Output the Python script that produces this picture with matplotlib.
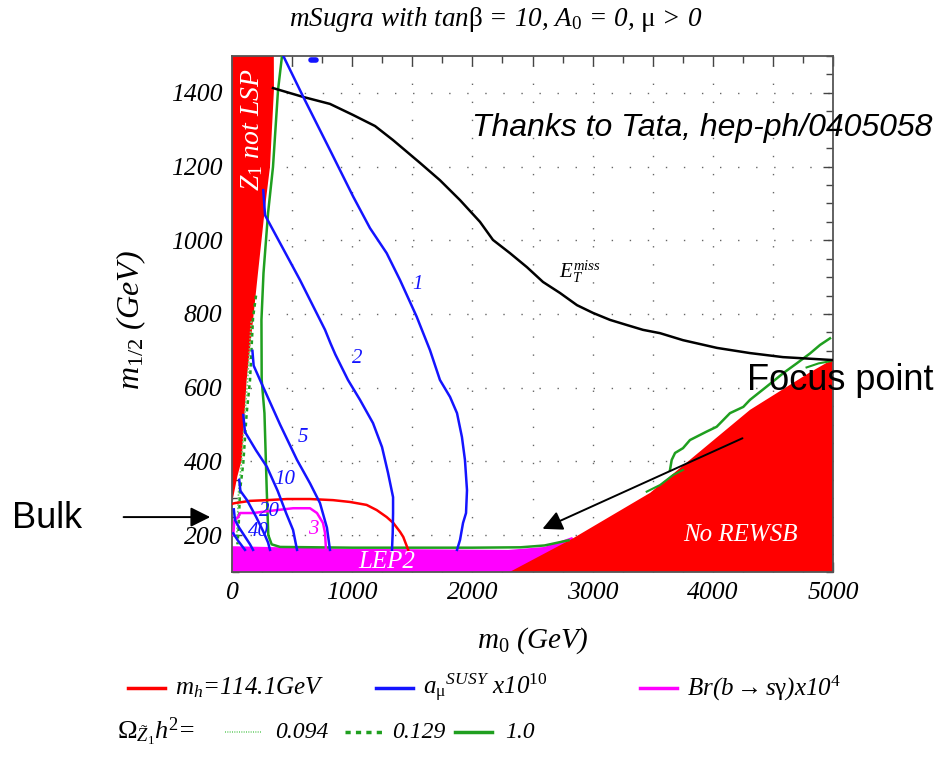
import matplotlib
matplotlib.use("Agg")
import matplotlib.pyplot as plt
from matplotlib.lines import Line2D
from matplotlib.ticker import MultipleLocator, FuncFormatter

plt.rcParams.update({
    "font.family": "Liberation Serif",
    "font.style": "italic",
    "mathtext.fontset": "custom",
    "mathtext.rm": "Liberation Serif:style=normal",
    "mathtext.it": "Liberation Serif:italic",
    "mathtext.bf": "Liberation Serif:bold",
})

RED = "#ff0000"
MAGENTA = "#ff00ff"
BLUE = "#1414ff"
GREEN = "#1f9f1f"
LIGHT_GREEN = "#6fcf6f"

# excluded regions (m0, m1/2 in GeV)
z1_m0 = [0, 11, 45, 81, 122, 175, 216, 275, 316, 349, 348, 0]
z1_mhalf = [295, 304, 360, 404, 621, 784, 911, 1090, 1199, 1408, 1500, 1500]

rewsb_m0 = [2310, 2830, 3480, 4310, 4800, 4950, 5000, 5000]
rewsb_mhalf = [100, 190, 315, 540, 640, 668, 675, 100]

lep2_m0 = [0, 0, 1000, 2300, 2600, 2830, 3000]
lep2_mhalf = [100, 170, 163, 160, 168, 195, 100]

# missing-ET reach
etmiss_m0 = [341, 591, 815, 1007, 1190, 1339, 1564, 1730, 1897, 2063, 2171, 2313, 2454,
             2587, 2729, 2870, 3003, 3145, 3286, 3419, 3561, 3752, 4035, 4309, 4584, 5000]
etmiss_mhalf = [1413, 1389, 1370, 1340, 1310, 1272, 1210, 1163, 1109, 1050, 1001, 965, 927,
                887, 857, 824, 803, 784, 770, 757, 748, 729, 708, 694, 683, 675]

# light higgs mass contour m_h = 114.1 GeV
mh_m0 = [0, 25, 150, 291, 458, 649, 840, 982, 1120, 1204, 1287, 1342, 1398, 1425, 1466]
mh_mhalf = [285, 287, 293, 295, 298, 298, 295, 290, 282, 268, 249, 233, 209, 195, 160]

# Br(b -> s gamma) x 10^4 = 3
bsg_m0 = [10, 20, 53, 67, 175, 374, 508, 649, 707, 757, 774, 782]
bsg_mhalf = [200, 240, 250, 260, 260, 268, 273, 273, 260, 233, 206, 160]

# relic density contours
omega1_m0 = [416, 383, 341, 300, 262, 245, 247, 270, 289, 302, 330, 400, 1000, 2000, 2400, 2600, 2800]
omega1_mhalf = [1500, 1408, 1199, 1074, 911, 784, 621, 531, 322, 200, 175, 168, 166, 166, 167, 172, 186]
omega1_fp_m0 = [3644, 3658, 3686, 3752, 3810, 3949, 4032, 4143, 4254, 4309, 4448, 4588, 4698, 4809, 4892, 4975]
omega1_fp_mhalf = [377, 404, 423, 436, 458, 481, 494, 531, 548, 567, 603, 640, 666, 693, 716, 734]
omega1_edge_m0 = [3450, 3561, 3669, 3752]
omega1_edge_mhalf = [318, 336, 363, 377]
omega1_top_m0 = [4780, 4880, 4980]
omega1_top_mhalf = [655, 666, 672]

omega129_m0 = [200, 175, 150, 122, 94, 67, 53, 45]
omega129_mhalf = [850, 790, 621, 531, 396, 322, 206, 175]
omega094_m0 = [160, 130, 105, 80, 55, 40]
omega094_mhalf = [780, 621, 520, 400, 320, 200]

# a_mu^SUSY x 10^10 contours
amu_values = ["1", "2", "5", "10", "20", "40"]
amu_m0 = [
    [427, 593, 815, 1009, 1148, 1287, 1398, 1536, 1647, 1730, 1814, 1872, 1913, 1938, 1955,
     1947, 1922, 1897, 1872],
    [260, 275, 566, 774, 820, 860, 965, 1065, 1173, 1248, 1298, 1340, 1340, 1337, 1331],
    [170, 180, 233, 400, 541, 650, 732, 790, 815],
    [94, 108, 200, 291, 380, 450, 508, 541],
    [60, 70, 125, 200, 260, 300, 316],
    [15, 25, 60, 110, 150, 175],
]
amu_mhalf = [
    [1500, 1389, 1245, 1118, 1033, 965, 892, 793, 702, 621, 575, 531, 466, 404, 322,
     260, 233, 187, 160],
    [1136, 1068, 892, 757, 720, 690, 621, 567, 504, 439, 369, 303, 260, 206, 160],
    [700, 660, 621, 500, 404, 340, 287, 220, 160],
    [526, 480, 430, 385, 320, 260, 214, 160],
    [350, 320, 295, 250, 210, 180, 160],
    [270, 241, 220, 195, 175, 160],
]
amu_label_m0 = [1547, 1040, 591, 441, 316, 216]
amu_label_mhalf = [879, 680, 466, 350, 263, 209]
amu_small_m0 = [10, 50, 108]
amu_small_mhalf = [205, 185, 160]
amu_blob_m0 = [655, 695]
amu_blob_mhalf = [1490, 1490]

W, H = 938, 758


def px(x, y):
    return x / W, 1 - y / H


fig = plt.figure(figsize=(W / 100, H / 100), dpi=100)
ax = fig.add_axes([232 / W, 186 / H, 601 / W, 516 / H])
ax.set_xlim(0, 5000)
ax.set_ylim(100, 1500)

# regions
ax.fill(lep2_m0, lep2_mhalf, color=MAGENTA, lw=0, zorder=2)
ax.fill(rewsb_m0, rewsb_mhalf, color=RED, lw=0, zorder=2.1)
ax.fill(z1_m0, z1_mhalf, color=RED, lw=0, zorder=2.1)

# contours
ax.plot(etmiss_m0, etmiss_mhalf, color="black", lw=1.8, zorder=4)
ax.plot(mh_m0, mh_mhalf, color=RED, lw=1.8, zorder=4)
ax.plot(bsg_m0, bsg_mhalf, color=MAGENTA, lw=1.8, zorder=4)

ax.plot(omega1_m0, omega1_mhalf, color=GREEN, lw=1.8, zorder=3.5)
ax.plot(omega1_fp_m0, omega1_fp_mhalf, color=GREEN, lw=1.8, zorder=3.5)
ax.plot(omega1_edge_m0, omega1_edge_mhalf, color=GREEN, lw=1.5, zorder=3.5)
ax.plot(omega1_top_m0, omega1_top_mhalf, color=GREEN, lw=1.5, zorder=3.5)
ax.plot(omega129_m0, omega129_mhalf, color=GREEN, lw=1.8, ls=(0, (1.5, 1.5)), zorder=3.5)
ax.plot(omega094_m0, omega094_mhalf, color=LIGHT_GREEN, lw=1.2, ls=(0, (1, 1)), zorder=3.5)

for xs, ys in zip(amu_m0, amu_mhalf):
    ax.plot(xs, ys, color=BLUE, lw=1.8, zorder=4)
ax.plot(amu_small_m0, amu_small_mhalf, color=BLUE, lw=1.8, zorder=4)
ax.plot(amu_blob_m0, amu_blob_mhalf, color=BLUE, lw=4, solid_capstyle="round", zorder=4)
for lab, lx, ly in zip(amu_values, amu_label_m0, amu_label_mhalf):
    ax.text(lx, ly, lab, color=BLUE, fontsize=15, ha="center", va="center", zorder=5)

ax.text(674, 214, "3", color=MAGENTA, fontsize=15, ha="center", va="center", zorder=5)
ax.text(2895, 914, r"$E_T^{miss}$", color="black", fontsize=15, ha="center", va="center", zorder=5)

# region names
ax.text(166, 1300, r"Z$_1$ not LSP", color="white", fontsize=20,
        rotation=90, ha="center", va="center", zorder=5)
ax.text(1290, 127, "LEP2", color="white", fontsize=18, ha="center", va="center", zorder=5)
ax.text(4226, 200, "No REWSB", color="white", fontsize=18, ha="center", va="center", zorder=5)

# axes styling
ax.xaxis.set_major_locator(MultipleLocator(500))
ax.xaxis.set_minor_locator(MultipleLocator(250))
ax.xaxis.set_major_formatter(FuncFormatter(lambda v, p: f"{v:.0f}" if v % 1000 == 0 else ""))
ax.yaxis.set_major_locator(MultipleLocator(200))
ax.yaxis.set_minor_locator(MultipleLocator(50))
ax.tick_params(which="both", direction="in", top=True, right=True,
               labelsize=18.5, color="#444444", pad=7)
ax.tick_params(which="major", length=7, width=1)
ax.tick_params(which="minor", length=5, width=1)
ax.grid(True, which="major", color="#666666", lw=1.0, ls=(0, (1, 12)))
ax.set_axisbelow(True)
for s in ax.spines.values():
    s.set_color("#555555")
    s.set_linewidth(1.3)

ax.set_xlabel(r"m$_0$ (GeV)", fontsize=21)
ax.xaxis.set_label_coords(0.5, -0.103)
ax.set_ylabel(r"m$_{1/2}$ (GeV)", fontsize=23)
ax.yaxis.set_label_coords(-0.14, 0.488)

fig.text(*px(496, 20),
         r"mSugra with tan$\mathrm{\beta}$ = 10, A$_0$ = 0, $\mathrm{\mu}$ > 0",
         fontsize=19.5, ha="center", va="center")

# annotations
fig.text(*px(472, 128), "Thanks to Tata, hep-ph/0405058", family="Liberation Sans",
         style="italic", fontsize=23, ha="left", va="center")
fig.text(*px(840, 380), "Focus point", family="Liberation Sans", style="normal",
         fontsize=26, ha="center", va="center", zorder=6)
fig.text(*px(47, 518), "Bulk", family="Liberation Sans", style="normal",
         fontsize=26, ha="center", va="center")
arrow = dict(arrowstyle="-|>", color="black", lw=1.4, mutation_scale=30)
ax.annotate("", xy=(2562, 214), xytext=(4268, 466), arrowprops=arrow, zorder=6)
ax.annotate("", xy=(-158, 249), xytext=(-925, 249), arrowprops=arrow,
            annotation_clip=False)

# legend
row1 = [
    (128, RED, r"m$_h$=114.1GeV"),
    (376, BLUE, r"a$_\mathrm{\mu}$$^{SUSY}$ x10$^{10}$"),
    (640, MAGENTA, r"Br(b$\rightarrow$s$\mathrm{\gamma}$)x10$^4$"),
]
for x0, c, lab in row1:
    fig.add_artist(Line2D([x0 / W, (x0 + 37) / W], [1 - 688 / H] * 2, color=c, lw=2.5))
    fig.text(*px(x0 + 47, 688), lab, fontsize=18, ha="left", va="center")

fig.text(*px(117, 732), r"$\mathrm{\Omega}_{\tilde{Z}_1}$h$^2$=", fontsize=19,
         ha="left", va="center")
row2 = [
    (225, LIGHT_GREEN, (0, (0.6, 0.8)), 1.2, 275, "0.094"),
    (345, GREEN, (0, (1.5, 1.5)), 2.5, 392, "0.129"),
    (455, GREEN, "-", 2.5, 505, "1.0"),
]
for x0, c, ls, lw, tx, lab in row2:
    fig.add_artist(Line2D([x0 / W, (x0 + 37) / W], [1 - 732 / H] * 2, color=c, lw=lw, ls=ls))
    fig.text(*px(tx, 732), lab, fontsize=17, ha="left", va="center")

fig.savefig("out.png", dpi=100)
